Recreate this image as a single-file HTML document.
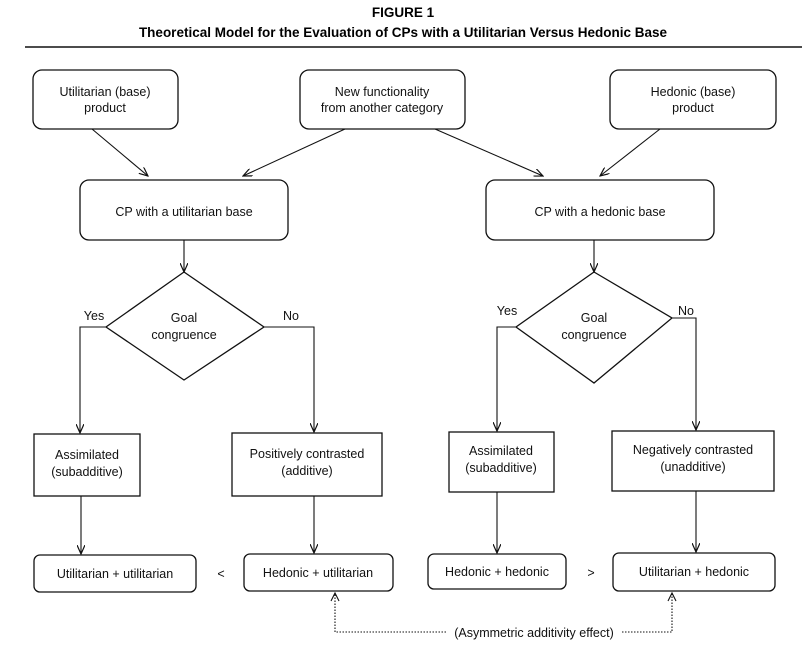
<!DOCTYPE html>
<html><head><meta charset="utf-8"><style>
html,body{margin:0;padding:0;background:#fff;}
svg{display:block;font-family:"Liberation Sans",Arial,sans-serif;}
</style></head><body>
<svg width="802" height="648" viewBox="0 0 802 648">
<defs>
<marker id="a" markerWidth="10" markerHeight="8" refX="9" refY="4" orient="auto" markerUnits="userSpaceOnUse">
<path d="M0,0 L9,4 L0,8" fill="none" stroke="#111" stroke-width="1.2"/>
</marker>
</defs>
<text x="403" y="17" font-size="13.5" font-weight="bold" text-anchor="middle">FIGURE 1</text>
<text x="403" y="37" font-size="13.5" font-weight="bold" text-anchor="middle">Theoretical Model for the Evaluation of CPs with a Utilitarian Versus Hedonic Base</text>
<line x1="25" y1="47" x2="802" y2="47" stroke="#111" stroke-width="1.5"/>
<g fill="none" stroke="#111" stroke-width="1.3">
<rect x="33" y="70" width="145" height="59" rx="9"/>
<rect x="300" y="70" width="165" height="59" rx="9"/>
<rect x="610" y="70" width="166" height="59" rx="9"/>
<rect x="80" y="180" width="208" height="60" rx="9"/>
<rect x="486" y="180" width="228" height="60" rx="9"/>
<polygon points="184,272 264,327 184,380 106,327"/>
<polygon points="594,272 672,318 594,383 516,327"/>
<rect x="34" y="434" width="106" height="62"/>
<rect x="232" y="433" width="150" height="63"/>
<rect x="449" y="432" width="105" height="60"/>
<rect x="612" y="431" width="162" height="60"/>
<rect x="34" y="555" width="162" height="37" rx="6"/>
<rect x="244" y="554" width="149" height="37" rx="6"/>
<rect x="428" y="554" width="138" height="35" rx="6"/>
<rect x="613" y="553" width="162" height="38" rx="6"/>
</g>
<g stroke="#111" stroke-width="1.1" fill="none" marker-end="url(#a)">
<line x1="92" y1="129" x2="148" y2="176"/>
<line x1="345" y1="129" x2="243" y2="176"/>
<line x1="435" y1="129" x2="543" y2="176"/>
<line x1="660" y1="129" x2="600" y2="176"/>
<line x1="184" y1="240" x2="184" y2="272"/>
<line x1="594" y1="240" x2="594" y2="272"/>
<polyline points="106,327 80,327 80,433"/>
<polyline points="264,327 314,327 314,432"/>
<polyline points="516,327 497,327 497,431"/>
<polyline points="672,318 696,318 696,430"/>
<line x1="81" y1="496" x2="81" y2="554"/>
<line x1="314" y1="496" x2="314" y2="553"/>
<line x1="497" y1="492" x2="497" y2="553"/>
<line x1="696" y1="491" x2="696" y2="552"/>
</g>
<g stroke="#111" stroke-width="1.1" fill="none" stroke-dasharray="1.5,1.5">
<polyline points="446,632 335,632 335,594"/>
<polyline points="622,632 672,632 672,594"/>
</g>
<g stroke="#111" stroke-width="1.1" fill="none">
<path d="M331,601 L335,593 L339,601"/>
<path d="M668,601 L672,593 L676,601"/>
</g>
<g font-size="12.5" text-anchor="middle" fill="#111">
<text x="105" y="96">Utilitarian (base)</text><text x="105" y="112">product</text>
<text x="382" y="96">New functionality</text><text x="382" y="112">from another category</text>
<text x="693" y="96">Hedonic (base)</text><text x="693" y="112">product</text>
<text x="184" y="216">CP with a utilitarian base</text>
<text x="600" y="216">CP with a hedonic base</text>
<text x="184" y="322">Goal</text><text x="184" y="339">congruence</text>
<text x="594" y="322">Goal</text><text x="594" y="339">congruence</text>
<text x="94" y="320">Yes</text><text x="291" y="320">No</text>
<text x="507" y="315">Yes</text><text x="686" y="315">No</text>
<text x="87" y="459">Assimilated</text><text x="87" y="476">(subadditive)</text>
<text x="307" y="458">Positively contrasted</text><text x="307" y="475">(additive)</text>
<text x="501" y="455">Assimilated</text><text x="501" y="472">(subadditive)</text>
<text x="693" y="454">Negatively contrasted</text><text x="693" y="471">(unadditive)</text>
<text x="115" y="578">Utilitarian + utilitarian</text>
<text x="318" y="577">Hedonic + utilitarian</text>
<text x="497" y="576">Hedonic + hedonic</text>
<text x="694" y="576">Utilitarian + hedonic</text>
<text x="221" y="578">&lt;</text><text x="591" y="577">&gt;</text>
<text x="534" y="637">(Asymmetric additivity effect)</text>
</g>
</svg>
</body></html>
